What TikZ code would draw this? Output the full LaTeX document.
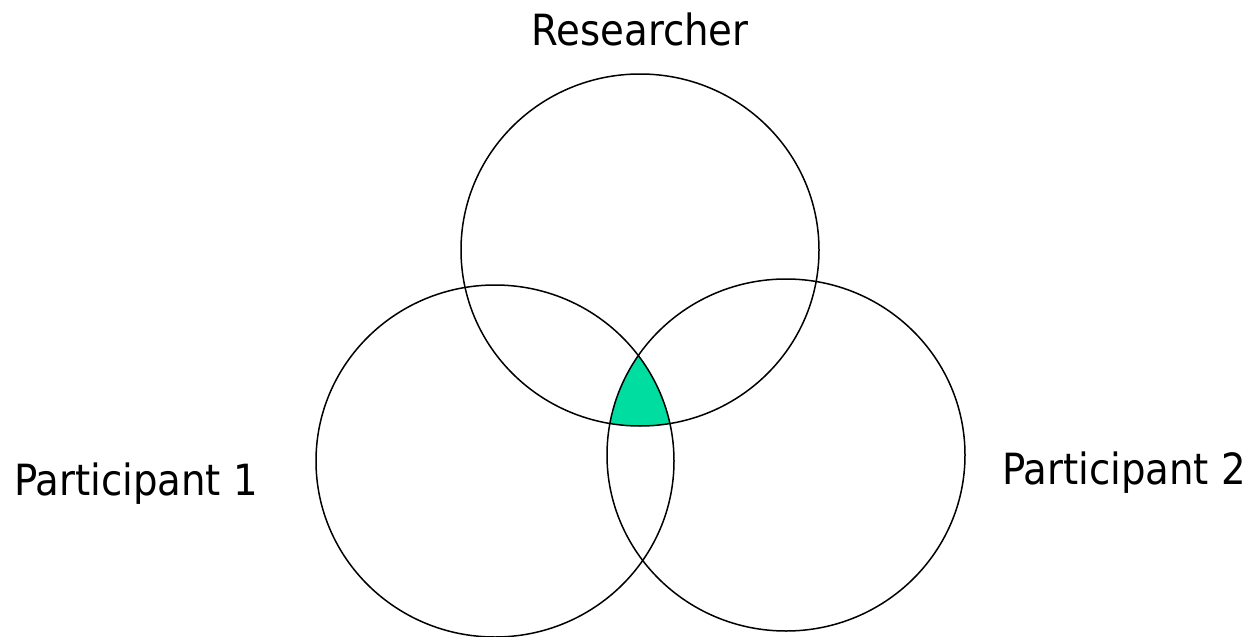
\documentclass[tikz,border=0pt]{standalone}
\usepackage{fontspec}
\setmainfont{DejaVu Sans Condensed}
\usetikzlibrary{shapes.geometric}
\definecolor{mint}{RGB}{0,221,160}

\begin{document}
\begin{tikzpicture}[
  x=1pt, y=-1pt,
  ring/.style={draw, ellipse, line width=1.5pt, minimum width=358pt, minimum height=352pt, inner sep=0pt},
  role/.style={font=\fontsize{43}{48}\selectfont, anchor=base, inner sep=0pt}
]
\useasboundingbox (0,0) rectangle (1253,637);

% shared region first, circles drawn over it
\begin{scope}
\clip (640,250) ellipse [x radius=179, y radius=176];
\clip (495,461) ellipse [x radius=179, y radius=176];
\fill[mint] (786,455) ellipse [x radius=179, y radius=176];
\end{scope}

\node[ring] (researcher) at (640,250) {};
\node[ring] (part1) at (495,461) {};
\node[ring] (part2) at (786,455) {};

\node[role] (researcherlbl) at (640,45) {Researcher};
\node[role] (part1lbl) at (136,495) {Participant 1};
\node[role] (part2lbl) at (1124,484) {Participant 2};
\end{tikzpicture}
\end{document}
